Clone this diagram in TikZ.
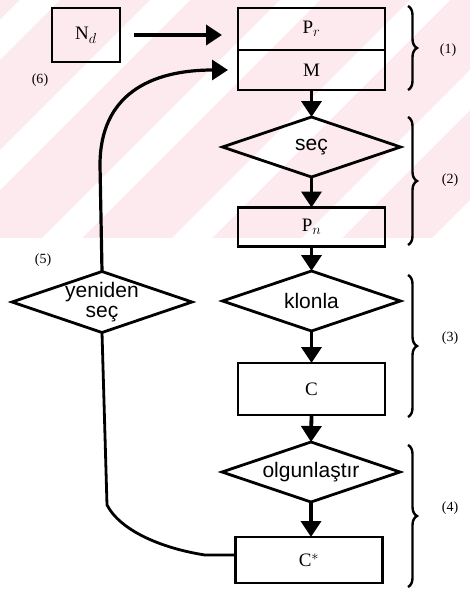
\documentclass[tikz,border=0pt]{standalone}
\usepackage{fontspec}
\setmainfont{Liberation Serif}
\newfontfamily\dsans{Liberation Sans}
\usetikzlibrary{shapes.geometric,arrows.meta,decorations.pathreplacing,calc}
\definecolor{wmpink}{RGB}{253,234,238}
\begin{document}
\begin{tikzpicture}[x=1pt,y=-1pt,
  box/.style={draw,line width=2.8pt,rectangle,outer sep=0pt,minimum width=147pt,inner sep=0pt,font=\fontsize{19}{19}\selectfont},
  dia/.style={draw,line width=2.8pt,diamond,aspect=3,inner sep=0pt,outer sep=0pt,minimum width=178pt,minimum height=60pt,font=\dsans\fontsize{21}{20}\selectfont,align=center},
  arr/.style={line width=3.8pt,-{Triangle[width=20pt,length=16pt]}},
  conn/.style={line width=2.8pt},
  brc/.style={decorate,decoration={brace,amplitude=9pt},line width=2.4pt},
  lab/.style={font=\fontsize{14}{14}\selectfont,inner sep=0pt}]
\useasboundingbox (0,0) rectangle (470,594);
% watermark band
\fill[wmpink] (0,0) rectangle (470,238);
\begin{scope}
\clip (0,0) rectangle (470,238);
\foreach \c in {40,170,300,430,560,690}{
  \fill[white] (\c-20,0) -- (\c+20,0) -- (\c+20-260,260) -- (\c-20-260,260) -- cycle;
}
\end{scope}
% nodes
\node[box,minimum width=68pt,minimum height=54pt] (N) at (86,35) {N$_d$};
\node[box,minimum height=42pt] (Pr) at (311.5,29) {P$_r$};
\node[box,minimum height=40pt,anchor=north] (M) at (Pr.south) {M};
\node[dia] (sec) at (311.5,147) {seç};
\node[box,minimum height=39pt] (Pn) at (311.5,227) {P$_n$};
\node[dia] (klon) at (311.5,301) {klonla};
\node[box,minimum height=52pt] (C) at (311.5,389) {C};
\node[dia] (olg) at (311,472) {olgunlaştır};
\node[box,minimum height=46pt] (Cs) at (309,560) {C$^{*}$};
\node[dia,inner sep=-6pt,minimum width=180pt,minimum height=61pt] (yen) at (102,302) {yeniden\\seç};
% labels
\node[lab] (l1) at (448,50) {(1)};
\node[lab] (l2) at (450,180) {(2)};
\node[lab] (l3) at (450,338) {(3)};
\node[lab] (l4) at (450,508) {(4)};
\node[lab] (l5) at (43,260) {(5)};
\node[lab] (l6) at (40,80) {(6)};
% braces
\draw[brc] (408,6) -- (408,90);
\draw[brc] (408,117) -- (408,245);
\draw[brc] (408,275) -- (408,417);
\draw[brc] (408,445) -- (408,587);
% arrows
\draw[arr,shorten <=14pt,shorten >=16pt] (N.east) -- (N.east -| Pr.west);
\draw[arr] (M.south) -- (sec.north);
\draw[arr] (sec.south) -- (Pn.north);
\draw[arr] (Pn.south) -- (klon.north);
\draw[arr] (klon.south) -- (C.north);
\draw[arr] (C.south) -- (olg.north);
\draw[arr] (olg.south) -- (olg.south |- Cs.north);
% feedback loop
\draw[conn] ([yshift=5pt]Cs.west) -- (205,555) .. controls (160,548) and (120,530) .. (107,505) -- (yen.south);
\draw[arr,line width=3.2pt,shorten >=10pt] (yen.north) -- (100,165) .. controls (100,95) and (150,70) .. (M.west |- 0,70);
\end{tikzpicture}
\end{document}
